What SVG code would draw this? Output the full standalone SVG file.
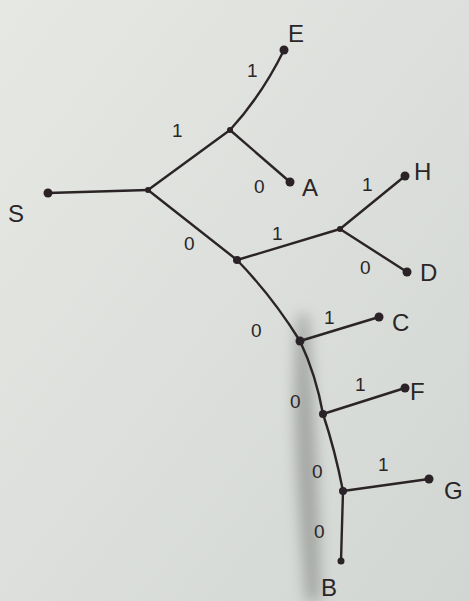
<svg xmlns="http://www.w3.org/2000/svg" width="469" height="601" viewBox="0 0 469 601">
<defs>
<linearGradient id="bg" x1="0" y1="0" x2="1" y2="1">
<stop offset="0" stop-color="#e6e8e4"/>
<stop offset="1" stop-color="#d2d6d2"/>
</linearGradient>
<filter id="blur" x="-50%" y="-20%" width="200%" height="140%"><feGaussianBlur stdDeviation="7"/></filter>
<style>
.e{fill:none;stroke:#2a2426;stroke-width:2.4;stroke-linecap:round}
.d{fill:#2a2226}
.lab{font-family:"Liberation Sans",sans-serif;font-size:24px;fill:#2a2628}
.bit{font-family:"Liberation Sans",sans-serif;font-size:19px;fill:#2a2628}
</style>
</defs>
<rect width="469" height="601" fill="url(#bg)"/>
<path d="M298 315 C290 400 298 500 306 601 L320 601 C320 500 314 400 308 315 Z" fill="#6f7270" opacity="0.5" filter="url(#blur)"/>
<g id="connectors">
<path class="e" d="M48 193 L148 190"/>
<path class="e" d="M148 190 L230 130"/>
<path class="e" d="M230 130 Q262 95 284 50"/>
<path class="e" d="M230 130 L290 182"/>
<path class="e" d="M148 190 L237 260"/>
<path class="e" d="M237 260 L340 229"/>
<path class="e" d="M340 229 L405 176"/>
<path class="e" d="M340 229 L407 272"/>
<path class="e" d="M237 260 Q272 296 300 341 Q316 375 323 414 Q335 450 343 491 L341 561"/>
<path class="e" d="M300 341 L379 317"/>
<path class="e" d="M323 414 L405 388"/>
<path class="e" d="M343 491 L429 479"/>
</g>
<g id="S"><circle class="d" cx="48" cy="193" r="4.5"/><text class="lab" x="8" y="222">S</text></g>
<g id="n1"><circle class="d" cx="148" cy="190" r="3"/></g>
<g id="n2"><circle class="d" cx="230" cy="130" r="3"/></g>
<g id="E"><circle class="d" cx="284" cy="50" r="4.5"/><text class="lab" x="288" y="42">E</text></g>
<g id="A"><circle class="d" cx="290" cy="182" r="4.5"/><text class="lab" x="302" y="196">A</text></g>
<g id="n3"><circle class="d" cx="237" cy="260" r="4"/></g>
<g id="n4"><circle class="d" cx="340" cy="229" r="3"/></g>
<g id="H"><circle class="d" cx="405" cy="176" r="4.5"/><text class="lab" x="414" y="180">H</text></g>
<g id="D"><circle class="d" cx="407" cy="272" r="4.5"/><text class="lab" x="420" y="281">D</text></g>
<g id="n5"><circle class="d" cx="300" cy="341" r="4.5"/></g>
<g id="C"><circle class="d" cx="379" cy="317" r="4.5"/><text class="lab" x="392" y="331">C</text></g>
<g id="n6"><circle class="d" cx="323" cy="414" r="4"/></g>
<g id="F"><circle class="d" cx="405" cy="388" r="4.5"/><text class="lab" x="410" y="400">F</text></g>
<g id="n7"><circle class="d" cx="343" cy="491" r="4"/></g>
<g id="G"><circle class="d" cx="429" cy="479" r="4.5"/><text class="lab" x="444" y="499">G</text></g>
<g id="B"><circle class="d" cx="341" cy="561" r="3.5"/><text class="lab" x="321" y="596" font-size="22">B</text></g>
<g id="bits">
<text class="bit" x="172" y="137">1</text>
<text class="bit" x="247" y="77">1</text>
<text class="bit" x="254" y="193">0</text>
<text class="bit" x="184" y="250">0</text>
<text class="bit" x="272" y="240">1</text>
<text class="bit" x="362" y="191">1</text>
<text class="bit" x="360" y="274">0</text>
<text class="bit" x="251" y="337">0</text>
<text class="bit" x="324" y="324">1</text>
<text class="bit" x="290" y="408">0</text>
<text class="bit" x="355" y="391">1</text>
<text class="bit" x="312" y="478">0</text>
<text class="bit" x="378" y="471">1</text>
<text class="bit" x="314" y="538">0</text>
</g>
</svg>
